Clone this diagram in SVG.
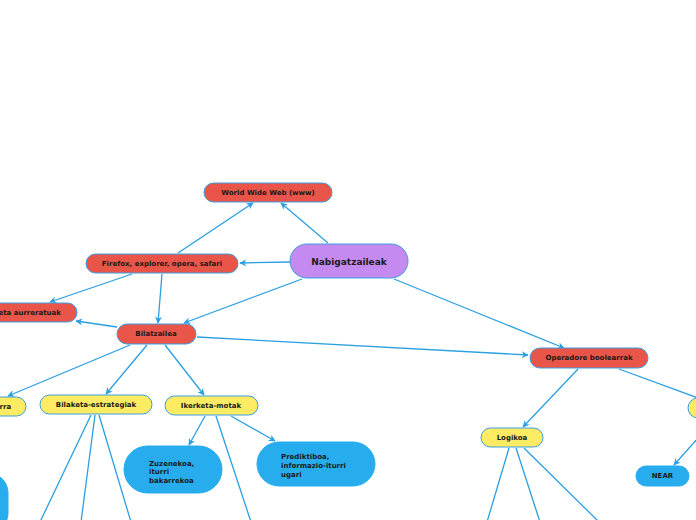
<svg xmlns="http://www.w3.org/2000/svg" width="696" height="520" viewBox="0 0 696 520">
<defs>
<marker id="ah" viewBox="0 0 10 10" refX="9" refY="5" markerWidth="7" markerHeight="7" orient="auto" markerUnits="userSpaceOnUse">
<path d="M0,0 L10,5 L0,10 L3,5 Z" fill="#2A9FE2"/>
</marker>
<style>
.n{stroke:#3A9EE0;stroke-width:1}
.red{fill:#EA5549}
.yel{fill:#FEEB64}
.pur{fill:#C48AEF}
.blu{fill:#27ACEE;stroke:#27ACEE}
.t{font-family:"DejaVu Sans",Verdana,sans-serif;font-weight:bold;font-size:7px;fill:#1a1a1a;text-anchor:middle;dominant-baseline:central}
.tl{font-family:"DejaVu Sans",Verdana,sans-serif;font-weight:bold;font-size:7px;fill:#1a1a1a}
.c{stroke:#2A9FE2;stroke-width:1.3;fill:none}
.a{marker-end:url(#ah)}
</style>
</defs>
<rect width="696" height="520" fill="#ffffff"/>
<g id="connectors">
<line class="c a" x1="328" y1="243" x2="281" y2="203"/>
<line class="c a" x1="178" y1="253" x2="253" y2="203"/>
<line class="c a" x1="290" y1="262" x2="240" y2="263"/>
<line class="c a" x1="132" y1="274" x2="50" y2="302"/>
<line class="c a" x1="162" y1="274" x2="158" y2="323"/>
<line class="c a" x1="302" y1="279" x2="184" y2="323"/>
<line class="c a" x1="394" y1="279" x2="564" y2="348"/>
<line class="c a" x1="117" y1="327" x2="76" y2="321"/>
<line class="c a" x1="197" y1="337" x2="528" y2="355"/>
<line class="c a" x1="130" y1="345" x2="8" y2="396"/>
<line class="c a" x1="147" y1="345" x2="106" y2="394"/>
<line class="c a" x1="165" y1="345" x2="204" y2="395"/>
<line class="c" x1="91" y1="415" x2="40" y2="522"/>
<line class="c" x1="95" y1="415" x2="81" y2="522"/>
<line class="c" x1="99" y1="415" x2="131" y2="522"/>
<line class="c a" x1="205" y1="416" x2="189" y2="445"/>
<line class="c a" x1="231" y1="416" x2="275" y2="441"/>
<line class="c" x1="216" y1="416" x2="251" y2="522"/>
<line class="c a" x1="578" y1="369" x2="523" y2="427"/>
<line class="c" x1="619" y1="369" x2="698" y2="398"/>
<line class="c a" x1="698" y1="438" x2="674" y2="465"/>
<line class="c" x1="509" y1="448" x2="487" y2="522"/>
<line class="c" x1="516" y1="448" x2="540" y2="522"/>
<line class="c" x1="524" y1="448" x2="599" y2="522"/>
</g>
<g id="www">
<rect class="n red" x="204" y="183" width="128" height="19" rx="9.5"/>
<text class="t" x="268" y="192.5">World Wide Web (www)</text>
</g>
<g id="firefox">
<rect class="n red" x="86" y="254" width="152" height="19" rx="9.5"/>
<text class="t" x="162" y="263.5">Firefox, explorer, opera, safari</text>
</g>
<g id="nabigatzaileak">
<rect class="n pur" x="290" y="244" width="118" height="34" rx="17"/>
<text class="t" x="349" y="262" style="font-size:9px">Nabigatzaileak</text>
</g>
<g id="bilaketa-aurreratuak">
<rect class="n red" x="-42" y="303" width="119" height="19" rx="9.5"/>
<text class="t" x="20" y="312.5">Bilaketa aurreratuak</text>
</g>
<g id="bilatzailea">
<rect class="n red" x="117" y="324" width="79" height="20" rx="10"/>
<text class="t" x="156" y="334">Bilatzailea</text>
</g>
<g id="helbide-barra">
<rect class="n yel" x="-70" y="397" width="96" height="19" rx="9.5"/>
<text class="t" x="-16" y="406.5">Helbide-barra</text>
</g>
<g id="bilaketa-estrategiak">
<rect class="n yel" x="40" y="395" width="112" height="19" rx="9.5"/>
<text class="t" x="96" y="404.5">Bilaketa-estrategiak</text>
</g>
<g id="ikerketa-motak">
<rect class="n yel" x="165" y="396" width="93" height="19" rx="9.5"/>
<text class="t" x="211" y="405.5">Ikerketa-motak</text>
</g>
<g id="zuzenekoa">
<rect class="n blu" x="124" y="446" width="98" height="47" rx="23.5"/>
<text class="tl" x="149" y="465.5">Zuzenekoa,</text>
<text class="tl" x="149" y="474">iturri</text>
<text class="tl" x="149" y="482.5">bakarrekoa</text>
</g>
<g id="prediktiboa">
<rect class="n blu" x="257" y="442" width="118" height="44" rx="22"/>
<text class="tl" x="281" y="458.5">Prediktiboa,</text>
<text class="tl" x="281" y="467.5">informazio-iturri</text>
<text class="tl" x="281" y="476.5">ugari</text>
</g>
<g id="left-blue">
<rect class="n blu" x="-60" y="473" width="68" height="60" rx="20"/>
</g>
<g id="operadore">
<rect class="n red" x="530" y="348" width="118" height="20" rx="10"/>
<text class="t" x="589" y="358">Operadore boolearrak</text>
</g>
<g id="logikoa">
<rect class="n yel" x="481" y="428" width="62" height="19" rx="9.5"/>
<text class="t" x="512" y="437.5">Logikoa</text>
</g>
<g id="right-yellow">
<rect class="n yel" x="688" y="398" width="60" height="20" rx="10"/>
</g>
<g id="near">
<rect class="n blu" x="636" y="466" width="53" height="20" rx="10"/>
<text class="t" x="662.5" y="476">NEAR</text>
</g>
</svg>
